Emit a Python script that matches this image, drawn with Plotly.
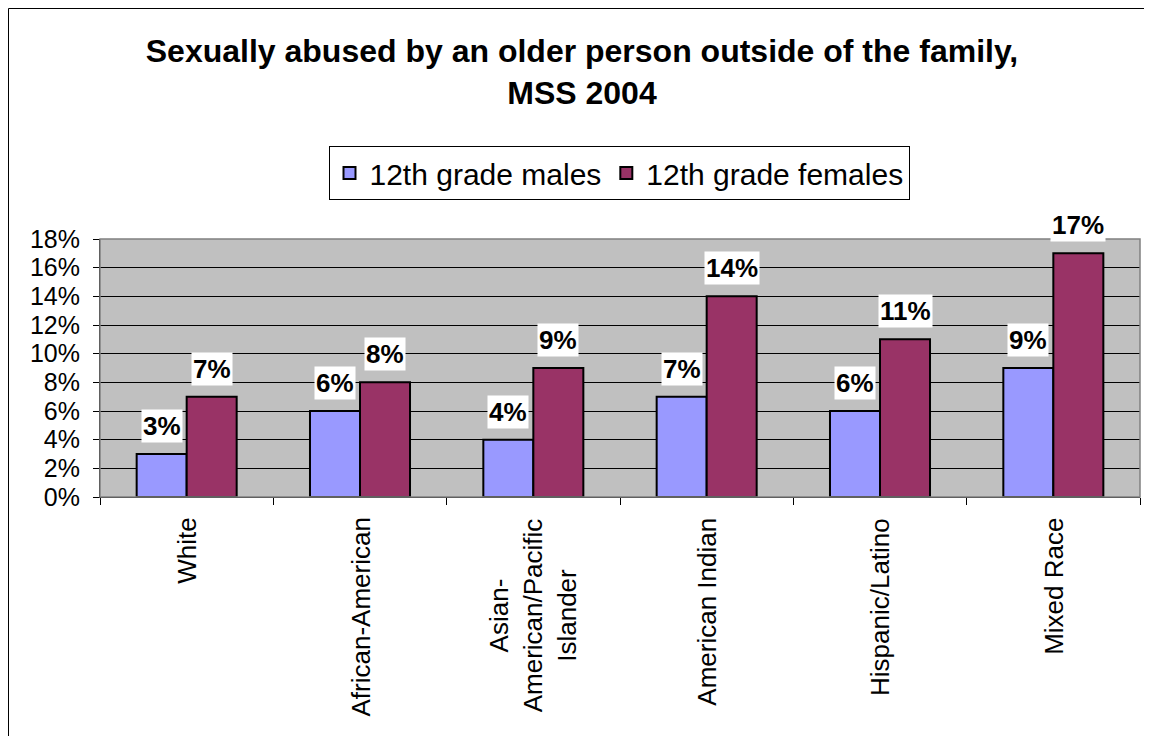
import plotly.graph_objects as go

categories = [
    "White",
    "African-American",
    "Asian-<br>American/Pacific<br>Islander",
    "American Indian",
    "Hispanic/Latino",
    "Mixed Race",
]
males = [0.03, 0.06, 0.04, 0.07, 0.06, 0.09]
females = [0.07, 0.08, 0.09, 0.14, 0.11, 0.17]
series_names = ["12th grade males", "12th grade females"]

# the page adds an 8px body margin, so the figure is a little smaller
W, H = 1136, 728
margin = {"l": 92, "r": 4, "t": 231, "b": 239}
plot_w = W - margin["l"] - margin["r"]
plot_h = H - margin["t"] - margin["b"]
bargap = 0.423
bar_px = plot_w / len(categories) * (1 - bargap) / 2

FONT = "Liberation Sans, Arial, sans-serif"


def px_x(p):
    return (p - margin["l"]) / plot_w


def px_y(p):
    return (H - margin["b"] - p) / plot_h


fig = go.Figure()
fig.add_trace(
    go.Bar(
        x=categories,
        y=males,
        name=series_names[0],
        marker={"color": "#9999FF", "line": {"color": "black", "width": 2}},
    )
)
fig.add_trace(
    go.Bar(
        x=categories,
        y=females,
        name=series_names[1],
        marker={"color": "#993366", "line": {"color": "black", "width": 2}},
    )
)

annotations = []
for values, shift in ((males, -bar_px / 2), (females, bar_px / 2)):
    for cat, val in zip(categories, values):
        annotations.append(
            dict(
                x=cat,
                y=val,
                xref="x",
                yref="y",
                text=f"<b>{round(val * 100)}%</b>",
                showarrow=False,
                xshift=shift,
                yanchor="bottom",
                yshift=11,
                bgcolor="white",
                borderpad=1,
                font={"size": 26, "color": "black", "family": FONT},
            )
        )

for cat in categories:
    annotations.append(
        dict(
            x=cat,
            y=0,
            xref="x",
            yref="paper",
            text=cat,
            showarrow=False,
            textangle=-90,
            yanchor="top",
            yshift=-19,
            align="center",
            font={"size": 26, "color": "black", "family": FONT},
        )
    )

shapes = [
    # plot area border
    dict(
        type="rect",
        xref="paper",
        yref="paper",
        x0=0,
        x1=1,
        y0=0,
        y1=1,
        line={"color": "#808080", "width": 1.5},
        layer="above",
    ),
    # outer chart border (only top and left are visible in the crop)
    dict(
        type="line",
        xref="paper",
        yref="paper",
        x0=px_x(0.5),
        x1=px_x(W),
        y0=px_y(0.5),
        y1=px_y(0.5),
        line={"color": "black", "width": 1},
    ),
    dict(
        type="line",
        xref="paper",
        yref="paper",
        x0=px_x(0.5),
        x1=px_x(0.5),
        y0=px_y(0.5),
        y1=px_y(H),
        line={"color": "black", "width": 1},
    ),
]

fig.update_layout(
    width=W,
    height=H,
    margin=margin,
    barmode="group",
    bargap=bargap,
    bargroupgap=0,
    paper_bgcolor="white",
    plot_bgcolor="#C0C0C0",
    font={"family": FONT, "color": "black"},
    title={
        "text": "<b>Sexually abused by an older person outside of the family,<br>MSS 2004</b>",
        "x": 574 / W,
        "xanchor": "center",
        "y": 1 - 54 / H,
        "yanchor": "top",
        "font": {"size": 32, "family": FONT, "color": "black"},
    },
    legend={
        "orientation": "h",
        "x": px_x(611),
        "xanchor": "center",
        "y": px_y(138),
        "yanchor": "top",
        "bordercolor": "black",
        "borderwidth": 1,
        "bgcolor": "white",
        "font": {"size": 30, "family": FONT, "color": "black"},
        "traceorder": "normal",
    },
    xaxis={
        "showticklabels": False,
        "ticks": "outside",
        "ticklen": 7,
        "tickcolor": "black",
        "tickson": "boundaries",
        "showline": True,
        "linecolor": "black",
        "linewidth": 1,
        "showgrid": False,
    },
    yaxis={
        "range": [0, 0.18],
        "dtick": 0.02,
        "tickformat": ".0%",
        "ticks": "outside",
        "ticklen": 6,
        "tickcolor": "black",
        "showline": True,
        "linecolor": "black",
        "linewidth": 1,
        "showgrid": True,
        "gridcolor": "black",
        "gridwidth": 1,
        "zeroline": False,
        "tickfont": {"size": 25, "family": FONT, "color": "black"},
        "ticklabelstandoff": 8,
    },
    annotations=annotations,
    shapes=shapes,
)

fig.write_html("out.html")
